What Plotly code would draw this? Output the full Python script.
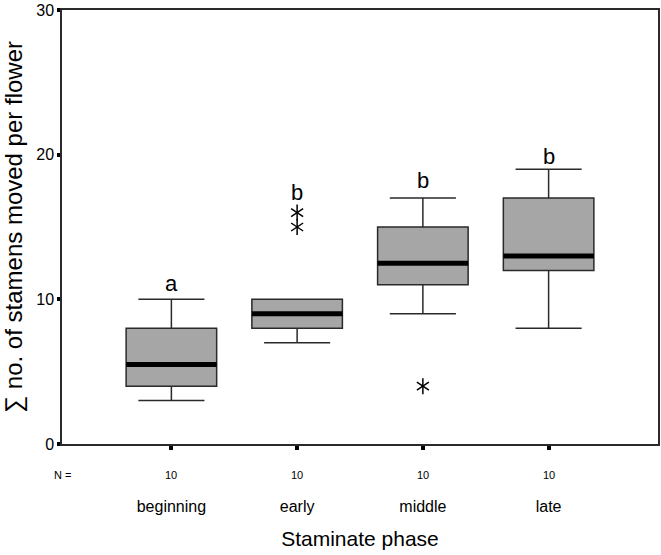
import plotly.graph_objects as go

categories = ["beginning", "early", "middle", "late"]
n_counts = [10, 10, 10, 10]
q1 = [4, 8, 11, 12]
median = [5.5, 9, 12.5, 13]
q3 = [8, 10, 15, 17]
lower = [3, 7, 9, 8]
upper = [10, 10, 17, 19]
outlier_cat = ["early", "early", "middle"]
outlier_val = [15, 16, 4]
letters = ["a", "b", "b", "b"]
letter_y = [11.1, 17.4, 18.2, 19.9]

FONT = "Liberation Sans, Arial, sans-serif"
BOX_W = 0.72
xpos = list(range(len(categories)))

fig = go.Figure()
fig.add_trace(go.Box(
    x=xpos, q1=q1, median=median, q3=q3,
    lowerfence=lower, upperfence=upper,
    width=BOX_W, whiskerwidth=0.73,
    fillcolor="#a6a6a6",
    line=dict(color="#2a2a2a", width=1.5),
    boxpoints=False, showlegend=False, hoverinfo="skip",
))

# thick median lines
mx, my = [], []
for i, m in zip(xpos, median):
    mx += [i - BOX_W / 2, i + BOX_W / 2, None]
    my += [m, m, None]
fig.add_trace(go.Scatter(x=mx, y=my, mode="lines",
                         line=dict(color="black", width=5),
                         showlegend=False, hoverinfo="skip"))

# outliers (6-armed asterisk from two overlaid "y" symbols)
ox = [categories.index(c) for c in outlier_cat]
for sym in ["y-up-open", "y-down-open"]:
    fig.add_trace(go.Scatter(
        x=ox, y=outlier_val, mode="markers",
        marker=dict(symbol=sym, size=10, color="black",
                    line=dict(color="black", width=1.5)),
        showlegend=False, hoverinfo="skip"))

# significance letters
for i, (t, yv) in enumerate(zip(letters, letter_y)):
    fig.add_annotation(x=i, y=yv, text=t, showarrow=False,
                       font=dict(family=FONT, size=22, color="black"),
                       xanchor="center", yanchor="middle")

# N row
fig.add_annotation(x=0, xref="paper", y=0, yref="paper", text="N =",
                   showarrow=False, xanchor="center", yanchor="middle",
                   yshift=-31, font=dict(family=FONT, size=11, color="#000000"))
for i, n in enumerate(n_counts):
    fig.add_annotation(x=i, y=0, yref="paper", text=str(n), showarrow=False,
                       xanchor="center", yanchor="middle", yshift=-31,
                       font=dict(family=FONT, size=11, color="#000000"))

fig.update_layout(
    width=661, height=555,
    margin=dict(l=62, r=3, t=10, b=111, autoexpand=False),
    plot_bgcolor="white", paper_bgcolor="white",
    font=dict(family=FONT, color="black"),
)
fig.update_xaxes(
    range=[-0.87, 3.87], tickvals=xpos, ticktext=categories,
    showline=True, linecolor="#2a2a2a", linewidth=1.5, mirror=True,
    ticks="outside", ticklen=4, tickwidth=4, tickcolor="black",
    ticklabelstandoff=43, tickfont=dict(size=16, color="black"),
    showgrid=False, zeroline=False, automargin=False,
    title=dict(text="Staminate phase", font=dict(size=21, color="black"), standoff=17),
)
fig.update_yaxes(
    range=[0, 30], tickvals=[0, 10, 20, 30],
    showline=True, linecolor="#2a2a2a", linewidth=1.5, mirror=True,
    ticks="outside", ticklen=3, tickwidth=4, tickcolor="black",
    tickfont=dict(size=16, color="black"), showgrid=False, zeroline=False,
    automargin=False, ticklabeloverflow="allow",
    title=dict(text="∑ no. of stamens moved per flower",
               font=dict(size=24, color="black"), standoff=10),
)

fig.write_html("out.html", config={"displayModeBar": False},
               post_script="document.body.style.margin='0px';")
